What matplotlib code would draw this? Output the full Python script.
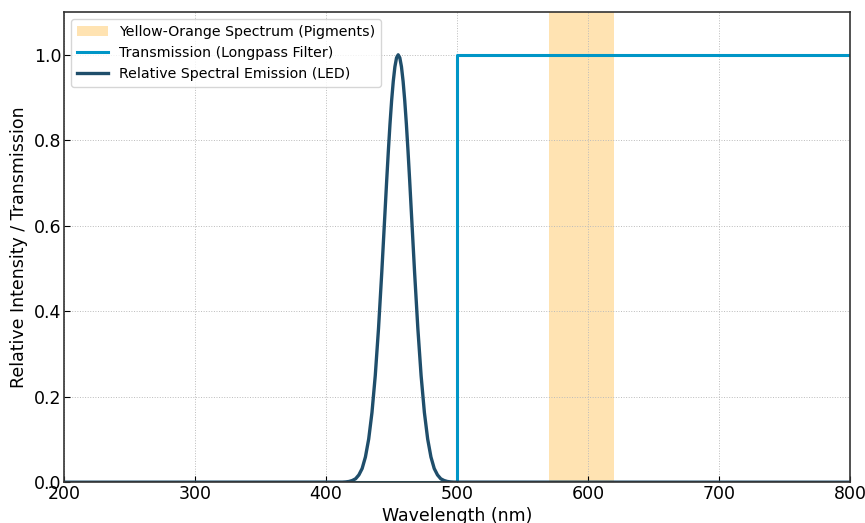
import matplotlib.pyplot as plt

# LED emission
led_wl = [200, 412.5, 415, 417.5, 420, 422.5, 425, 427.5, 430, 432.5, 435, 437.5, 440, 442.5,
          445, 446.25, 447.5, 448.75, 450, 451.25, 452.5, 453.75, 455, 456.25, 457.5, 458.75,
          460, 461.25, 462.5, 463.75, 465, 467.5, 470, 472.5, 475, 477.5, 480, 482.5, 485,
          487.5, 490, 492.5, 495, 497.5, 800]
led_int = [0, 0.0002, 0.0007, 0.0017, 0.004, 0.008, 0.017, 0.032, 0.059, 0.101, 0.163, 0.249,
           0.36, 0.492, 0.635, 0.707, 0.775, 0.838, 0.893, 0.938, 0.972, 0.993, 1.0, 0.993,
           0.972, 0.938, 0.893, 0.838, 0.775, 0.707, 0.635, 0.492, 0.36, 0.249, 0.163, 0.101,
           0.059, 0.032, 0.017, 0.008, 0.004, 0.0017, 0.0007, 0.0002, 0]

# longpass filter
filt_wl = [200, 500, 500, 800]
filt_tr = [0, 0, 1, 1]

band = (570, 620)

fig, ax = plt.subplots(figsize=(8.65, 5.23), dpi=100)
fig.subplots_adjust(left=0.074, right=0.983, top=0.977, bottom=0.078)

ax.axvspan(band[0], band[1], color='#FFA500', alpha=0.3, lw=0,
           label='Yellow-Orange Spectrum (Pigments)')
ax.plot(filt_wl, filt_tr, color='#0096c7', lw=2.2, label='Transmission (Longpass Filter)')
ax.plot(led_wl, led_int, color='#1f4e6b', lw=2.4, solid_joinstyle='round',
        label='Relative Spectral Emission (LED)')

ax.set_xlim(200, 800)
ax.set_ylim(0, 1.1)
ax.set_xticks([200, 300, 400, 500, 600, 700, 800])
ax.set_yticks([0, 0.2, 0.4, 0.6, 0.8, 1.0])
ax.tick_params(direction='in', labelsize=12.5, pad=2, length=4)
ax.set_xlabel('Wavelength (nm)', fontsize=12.5, labelpad=3)
ax.set_ylabel('Relative Intensity / Transmission', fontsize=12.5)
ax.grid(True, linestyle=':', color='#bbbbbb', lw=0.7)
for s in ax.spines.values():
    s.set_color('#333333')
    s.set_linewidth(1.2)

ax.legend(loc='upper left', fontsize=10.2, frameon=True, handlelength=2.2)

plt.savefig('out.png', dpi=100)
